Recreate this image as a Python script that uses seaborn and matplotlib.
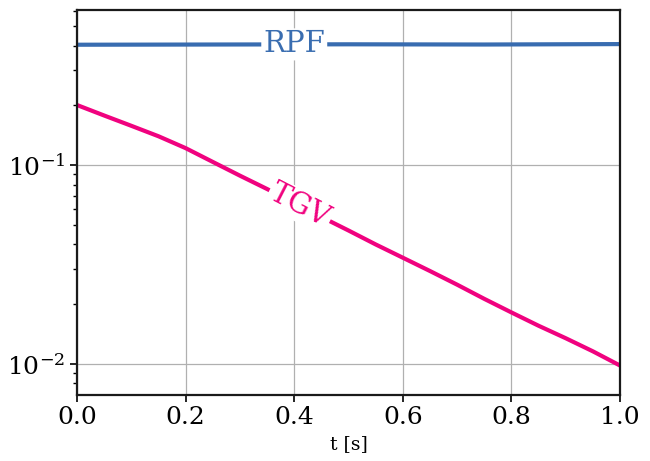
import numpy as np
import pandas as pd
import matplotlib
matplotlib.use('Agg')
import matplotlib.pyplot as plt
import seaborn as sns

# values
t_tgv = [0.0, 0.05, 0.1, 0.15, 0.2, 0.25, 0.3, 0.35, 0.4, 0.45, 0.5,
         0.55, 0.6, 0.65, 0.7, 0.75, 0.8, 0.85, 0.9, 0.95, 1.0]
tgv = [0.201, 0.178, 0.158, 0.140, 0.122, 0.104, 0.0887, 0.076, 0.0647, 0.055, 0.047,
       0.040, 0.0343, 0.0294, 0.0251, 0.0213, 0.0182, 0.0156, 0.0135, 0.0116, 0.00984]
t_rpf = [0.0, 0.25, 0.5, 0.75, 1.0]
rpf = [0.404, 0.405, 0.406, 0.405, 0.407]

colors = {'RPF': '#386cb0', 'TGV': '#f0027f'}

df = pd.concat([
    pd.DataFrame({'t': t_rpf, 'value': rpf, 'method': 'RPF'}),
    pd.DataFrame({'t': t_tgv, 'value': tgv, 'method': 'TGV'}),
])

sns.set_style('ticks')
plt.rcParams['font.family'] = ['DejaVu Serif']
plt.rcParams['mathtext.fontset'] = 'dejavuserif'
for k in ['text.color', 'axes.labelcolor', 'xtick.color', 'ytick.color', 'axes.edgecolor']:
    plt.rcParams[k] = 'black'

fig = plt.figure(figsize=(6.5, 4.61), dpi=100)
ax = fig.add_axes([0.1185, 0.144, 0.8355, 0.834])
sns.lineplot(data=df, x='t', y='value', hue='method', palette=colors,
             linewidth=3, legend=False, ax=ax)
ax.set_yscale('log')
ax.set_xlim(0, 1)
ax.set_ylim(0.00703, 0.603)
ax.set_xticks([0, 0.2, 0.4, 0.6, 0.8, 1.0])
ax.grid(True, which='major', color='#b0b0b0', linewidth=0.9)
ax.set_axisbelow(True)
for s in ax.spines.values():
    s.set_linewidth(1.6)
    s.set_color('#1a1a1a')
ax.tick_params(axis='both', which='major', labelsize=18, width=1.2, length=5)
ax.tick_params(axis='y', which='minor', width=1, length=3)
ax.set_xlabel('t [s]', fontsize=13.5)
ax.set_ylabel('')

# inline labels
fig.canvas.draw()
for name, xs, ys, xl in [('RPF', t_rpf, rpf, 0.40), ('TGV', t_tgv, tgv, 0.41)]:
    ly = np.exp(np.interp(xl, xs, np.log(ys)))
    p1 = ax.transData.transform((xl - 0.02, np.exp(np.interp(xl - 0.02, xs, np.log(ys)))))
    p2 = ax.transData.transform((xl + 0.02, np.exp(np.interp(xl + 0.02, xs, np.log(ys)))))
    ang = np.degrees(np.arctan2(p2[1] - p1[1], p2[0] - p1[0]))
    ax.text(xl, ly, name, color=colors[name], fontsize=21, ha='center', va='center',
            rotation=ang, rotation_mode='anchor',
            bbox=dict(facecolor='white', edgecolor='none', pad=1.5))

fig.savefig('out.png', dpi=100)
